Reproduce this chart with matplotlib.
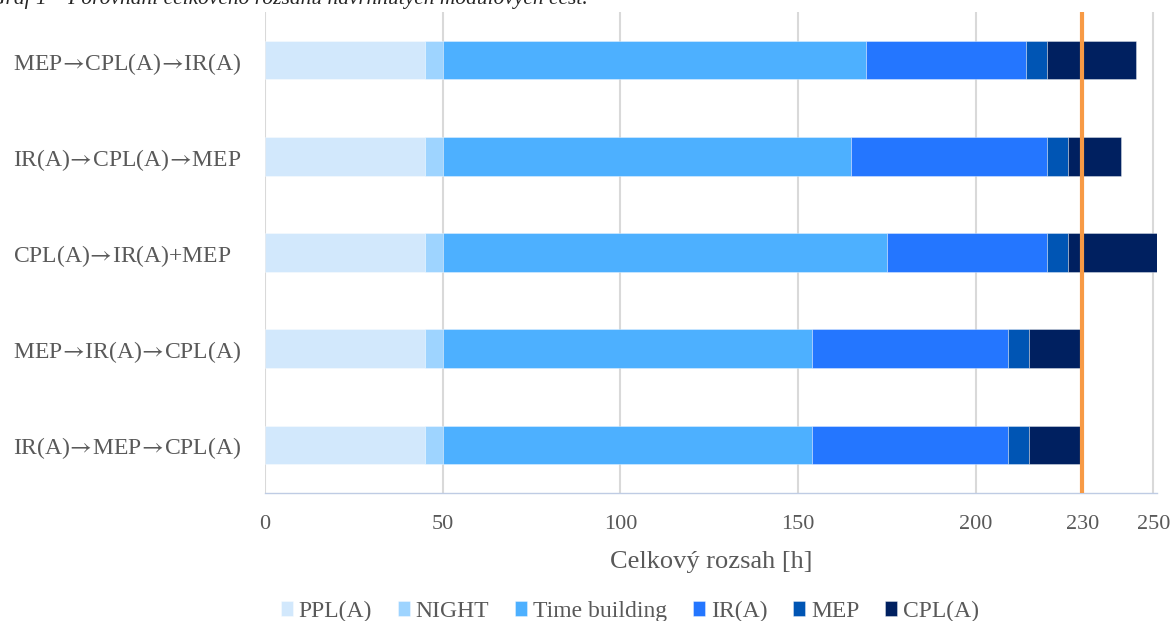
import matplotlib
matplotlib.use("Agg")
import matplotlib.pyplot as plt
import numpy as np

# Training routes, listed bottom to top
routes = [
    "IR(A)→MEP→CPL(A)",
    "MEP→IR(A)→CPL(A)",
    "CPL(A)→IR(A)+MEP",
    "IR(A)→CPL(A)→MEP",
    "MEP→CPL(A)→IR(A)",
]

# Hours per module for each route
ppl_a = [45, 45, 45, 45, 45]
night = [5, 5, 5, 5, 5]
time_building = [104, 104, 125, 115, 119]
ir_a = [55, 55, 45, 55, 45]
mep = [6, 6, 6, 6, 6]
cpl_a = [15, 15, 25, 15, 25]

series_names = ["PPL(A)", "NIGHT", "Time building", "IR(A)", "MEP", "CPL(A)"]
series_values = [ppl_a, night, time_building, ir_a, mep, cpl_a]
series_colors = ["#D2E8FC", "#9ED4FF", "#4DB0FF", "#2476FF", "#0055B4", "#002060"]

limit_hours = 230
x_ticks = [0, 50, 100, 150, 200, 230, 250]
x_max = 251

title_text = "Graf 1 – Porovnání celkového rozsahu navrhnutých modulových cest."
x_title = "Celkový rozsah [h]"

text_grey = "#595959"
serif = ["Liberation Serif", "DejaVu Serif"]
plt.rcParams["font.family"] = serif
plt.rcParams["mathtext.fontset"] = "stix"

W, H = 1175, 621
fig = plt.figure(figsize=(W / 100, H / 100), dpi=100)
ax = fig.add_axes([265 / W, 1 - 493 / H, (1157 - 265) / W, (493 - 12) / H])

y = np.arange(len(routes))
left = np.zeros(len(routes))
for name, vals, col in zip(series_names, series_values, series_colors):
    vals = np.asarray(vals, dtype=float)
    ax.barh(y, vals, left=left, height=0.4, color=col, label=name,
            edgecolor=(1, 1, 1, 0.5), linewidth=0.5, zorder=2)
    left += vals

ax.axvline(limit_hours, color="#F79A45", linewidth=3, zorder=4)

ax.set_xlim(0, x_max)
ax.set_ylim(-0.5, len(routes) - 0.5)
ax.set_xticks(x_ticks)
ax.set_xticklabels([str(t) for t in x_ticks])
ax.set_yticks(y)
# long STIX arrows between the module names
route_labels = [r.replace("→", r"$\!\rightarrow\!$") for r in routes]
ax.set_yticklabels(route_labels, ha="left")

ax.grid(axis="x", color="#D9D9D9", linewidth=1.5, zorder=0)
ax.set_axisbelow(True)
for s in ("top", "right", "left"):
    ax.spines[s].set_visible(False)
ax.spines["bottom"].set_color("#BFCCE4")
ax.spines["bottom"].set_linewidth(1.0)

ax.tick_params(axis="x", length=0, pad=15.5, labelsize=16, labelcolor=text_grey)
ax.tick_params(axis="y", length=0, pad=252 * 0.72, labelsize=17, labelcolor=text_grey)

ax.set_xlabel(x_title, fontsize=19, color=text_grey, va="center")
ax.xaxis.set_label_coords(0.5, -(562 - 493) / (493 - 12))

fig.legend(loc="center", bbox_to_anchor=(630 / W, 1 - 611 / H), ncol=6,
           frameon=False, fontsize=17, labelcolor=text_grey,
           handlelength=0.5, handleheight=0.6, handletextpad=0.25,
           columnspacing=1.1, borderaxespad=0)

fig.text(-10 / W, 1 - 4 / H, title_text, fontsize=15.5, style="italic",
         color="#262626", ha="left", va="baseline")

fig.savefig("out.png", dpi=100)
